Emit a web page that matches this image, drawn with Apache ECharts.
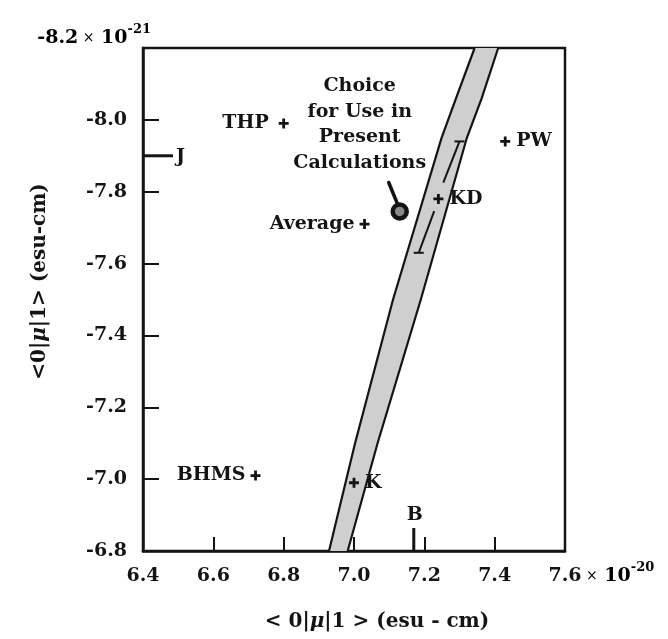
<!DOCTYPE html>
<html>
<head>
<meta charset="utf-8">
<script src="https://cdn.jsdelivr.net/npm/echarts@6/dist/echarts.min.js"></script>
<style>
  html, body { margin: 0; padding: 0; background: #fff; }
  #chart { width: 668px; height: 639px; }
</style>
</head>
<body>
<div id="chart"></div>
<script>
// ---- axis ticks ----
const xTicks = [6.4, 6.6, 6.8, 7.0, 7.2, 7.4, 7.6];
const xTickLabels = ['6.4', '6.6', '6.8', '7.0', '7.2', '7.4', '7.6'];
const yTicks = [-8.2, -8.0, -7.8, -7.6, -7.4, -7.2, -7.0, -6.8];
const yTickLabels = ['-8.2', '-8.0', '-7.8', '-7.6', '-7.4', '-7.2', '-7.0', '-6.8'];
const xExponent = '-20';
const yExponent = '-21';

// ---- individual determinations (x: <0|mu|1> x 1e-20, y: <0|mu|1> x 1e-21) ----
const pointNames = ['THP', 'Average', 'BHMS', 'PW', 'KD', 'K'];
const pointX = [6.80, 7.03, 6.72, 7.43, 7.24, 7.00];
const pointY = [-7.99, -7.71, -7.01, -7.94, -7.78, -6.99];

// ---- value chosen for the present calculations ----
const choiceX = [7.13];
const choiceY = [-7.745];
const choiceText = ['Choice', 'for Use in', 'Present', 'Calculations'];

// ---- allowed band: left / right edges sampled along y ----
const bandY = [-6.8, -7.1, -7.5, -7.95, -8.06, -8.2];
const bandLeftX = [6.929, 7.003, 7.111, 7.249, 7.290, 7.343];
const bandRightX = [6.982, 7.067, 7.190, 7.321, 7.363, 7.410];

// ---- KD uncertainty range along the band (upper bar, gap at KD, lower bar) ----
const kdRangeX = [7.30, 7.254, 7.228, 7.184];
const kdRangeY = [-7.94, -7.825, -7.746, -7.63];

// ---- single-coordinate results marked on the axes ----
const jValueY = -7.90;   // J: y only
const bValueX = 7.17;    // B: x only

const FONT = '"DejaVu Serif", "Liberation Serif", serif';
const INK = '#141414';
const TICK_SIZE = 19;
const LABEL_SIZE = 19;
const X_LABEL_MARGIN = 16;

function measure(str, font) {
  const ctx = document.createElement('canvas').getContext('2d');
  ctx.font = font;
  return ctx.measureText(str).width;
}

const expRich = {
  t: { fontFamily: FONT, fontWeight: 'bold', fontSize: TICK_SIZE, color: INK, lineHeight: 30 },
  x: { fontFamily: FONT, fontSize: 14, color: '#666', lineHeight: 30 },
  sup: { fontFamily: FONT, fontWeight: 'bold', fontSize: 13, color: INK, lineHeight: 14, verticalAlign: 'top' }
};

const plusSymbol = 'path://M3.6,0H6.4V3.6H10V6.4H6.4V10H3.6V6.4H0V3.6H3.6Z';
const labelPlacement = {
  THP: ['left', 10], Average: ['left', 5], BHMS: ['left', 5],
  PW: ['right', 6], KD: ['right', 6], K: ['right', 6]
};

const chart = echarts.init(document.getElementById('chart'), null, { renderer: 'canvas' });

const titleRich = { i: { fontFamily: FONT, fontStyle: 'italic', fontWeight: 'bold', fontSize: 20, color: INK } };

const option = {
  animation: false,
  backgroundColor: '#fff',
  textStyle: { fontFamily: FONT },
  grid: {
    left: 143, top: 48, width: 422, height: 503,
    show: true, borderColor: INK, borderWidth: 2.5,
    containLabel: false, outerBoundsMode: 'none'
  },
  xAxis: {
    type: 'value',
    min: xTicks[0], max: xTicks[xTicks.length - 1], interval: 0.2,
    axisLine: { lineStyle: { color: INK, width: 2.5 } },
    axisTick: { inside: true, length: 14, lineStyle: { color: INK, width: 2 } },
    splitLine: { show: false },
    axisLabel: {
      margin: X_LABEL_MARGIN, color: INK, fontFamily: FONT, fontWeight: 'bold', fontSize: TICK_SIZE,
      showMinLabel: true, showMaxLabel: true, hideOverlap: false,
      formatter: (v, i) => xTickLabels[i]
    },
    name: '< 0|{i|μ}|1 > (esu - cm)',
    nameLocation: 'middle', nameGap: 61,
    nameTextStyle: {
      fontFamily: FONT, fontWeight: 'bold', fontSize: 20, color: INK,
      padding: [0, 0, 0, 46], rich: titleRich
    }
  },
  yAxis: {
    type: 'value', inverse: true,
    min: yTicks[0], max: yTicks[yTicks.length - 1], interval: 0.2,
    axisLine: { lineStyle: { color: INK, width: 2.5 } },
    axisTick: { inside: true, length: 16, lineStyle: { color: INK, width: 2 } },
    splitLine: { show: false },
    axisLabel: {
      margin: 16, color: INK, fontFamily: FONT, fontWeight: 'bold', fontSize: TICK_SIZE,
      showMinLabel: true, showMaxLabel: true, hideOverlap: false,
      formatter: (v, i) => i === 0 ? '' : yTickLabels[i]
    },
    name: '<0|{i|μ}|1> (esu-cm)',
    nameLocation: 'middle', nameGap: 93, nameRotate: 90,
    nameTextStyle: {
      fontFamily: FONT, fontWeight: 'bold', fontSize: 20, color: INK,
      padding: [0, 0, 0, 36], rich: titleRich
    }
  },
  series: [
    {
      // shaded band with its two boundary curves
      type: 'custom', name: 'band', silent: true, z: 1,
      data: [[bandLeftX[0], bandY[0]]],
      renderItem: (params, api) => {
        const left = bandY.map((y, i) => api.coord([bandLeftX[i], y]));
        const right = bandY.map((y, i) => api.coord([bandRightX[i], y]));
        return {
          type: 'group',
          children: [
            { type: 'polygon', shape: { points: left.concat(right.slice().reverse()) },
              style: { fill: '#cfcfcf', stroke: null } },
            { type: 'polyline', shape: { points: left }, style: { stroke: INK, lineWidth: 2.2, fill: null } },
            { type: 'polyline', shape: { points: right }, style: { stroke: INK, lineWidth: 2.2, fill: null } }
          ]
        };
      }
    },
    {
      // KD uncertainty bars
      type: 'custom', name: 'kdRange', silent: true, z: 3,
      data: [[kdRangeX[0], kdRangeY[0]]],
      renderItem: (params, api) => {
        const p = kdRangeX.map((x, i) => api.coord([x, kdRangeY[i]]));
        const cap = 5;
        const s = { stroke: INK, lineWidth: 2, fill: null };
        return {
          type: 'group',
          children: [
            { type: 'line', shape: { x1: p[0][0], y1: p[0][1], x2: p[1][0], y2: p[1][1] }, style: s },
            { type: 'line', shape: { x1: p[2][0], y1: p[2][1], x2: p[3][0], y2: p[3][1] }, style: s },
            { type: 'line', shape: { x1: p[0][0] - cap, y1: p[0][1], x2: p[0][0] + cap, y2: p[0][1] }, style: s },
            { type: 'line', shape: { x1: p[3][0] - cap, y1: p[3][1], x2: p[3][0] + cap, y2: p[3][1] }, style: s }
          ]
        };
      }
    },
    {
      // J and B: results with only one coordinate, drawn as long axis ticks
      type: 'custom', name: 'axisMarks', silent: true, z: 4,
      data: [[xTicks[0], jValueY]],
      renderItem: (params, api) => {
        const j = api.coord([xTicks[0], jValueY]);
        const b = api.coord([bValueX, yTicks[yTicks.length - 1]]);
        const s = { stroke: INK, lineWidth: 3, fill: null };
        const txt = { fontFamily: FONT, fontWeight: 'bold', fontSize: LABEL_SIZE, fill: INK };
        return {
          type: 'group',
          children: [
            { type: 'line', shape: { x1: j[0], y1: j[1], x2: j[0] + 30, y2: j[1] }, style: s },
            { type: 'text', x: j[0] + 33, y: j[1] + 1,
              style: Object.assign({ text: 'J', align: 'left', verticalAlign: 'middle' }, txt) },
            { type: 'line', shape: { x1: b[0], y1: b[1], x2: b[0], y2: b[1] - 23 }, style: s },
            { type: 'text', x: b[0] + 1, y: b[1] - 26,
              style: Object.assign({ text: 'B', align: 'center', verticalAlign: 'bottom' }, txt) }
          ]
        };
      }
    },
    {
      type: 'scatter', name: 'results', z: 5,
      symbol: plusSymbol, symbolSize: 10,
      itemStyle: { color: INK, opacity: 1 },
      label: {
        show: true, formatter: '{b}', color: INK,
        fontFamily: FONT, fontWeight: 'bold', fontSize: LABEL_SIZE
      },
      data: pointNames.map((n, i) => ({
        name: n,
        value: [pointX[i], pointY[i]],
        label: { position: labelPlacement[n][0], distance: labelPlacement[n][1] }
      }))
    },
    {
      type: 'scatter', name: 'choice', z: 6,
      symbol: 'circle', symbolSize: 14,
      itemStyle: { color: '#8a8a8a', borderColor: INK, borderWidth: 4.5, opacity: 1 },
      data: choiceX.map((x, i) => [x, choiceY[i]])
    }
  ]
};

chart.setOption(option);

// annotations placed relative to the plotted frame and the chosen point
const corner = chart.convertToPixel({ gridIndex: 0 }, [xTicks[0], yTicks[0]]);
const xEnd = chart.convertToPixel({ gridIndex: 0 }, [xTicks[xTicks.length - 1], yTicks[yTicks.length - 1]]);
const choicePx = chart.convertToPixel({ gridIndex: 0 }, [choiceX[0], choiceY[0]]);
const lastLabelHalf = measure(xTickLabels[xTickLabels.length - 1], `bold ${TICK_SIZE}px ${FONT}`) / 2;

chart.setOption({
  graphic: [
    {
      // exponent of the y scale, written beside the top value
      type: 'text', x: corner[0] + 8, y: corner[1] - 10, z: 10,
      style: {
        text: `{t|${yTickLabels[0]}}{x| ×}{t| 10}{sup|${yExponent}}`,
        align: 'right', verticalAlign: 'middle', rich: expRich
      }
    },
    {
      // exponent of the x scale, continuing the last tick label
      type: 'text', x: xEnd[0] + lastLabelHalf, y: xEnd[1] + X_LABEL_MARGIN + TICK_SIZE / 2, z: 10,
      style: {
        text: `{x| ×}{t| 10}{sup|${xExponent}}`,
        align: 'left', verticalAlign: 'middle', rich: expRich
      }
    },
    {
      type: 'text', x: choicePx[0] - 40, y: choicePx[1] - 138, z: 10,
      style: {
        text: choiceText.join('\n'),
        align: 'center', verticalAlign: 'top',
        fontFamily: FONT, fontWeight: 'bold', fontSize: LABEL_SIZE, lineHeight: 25.5,
        fill: INK
      }
    },
    {
      type: 'line', z: 10,
      shape: { x1: choicePx[0] - 11, y1: choicePx[1] - 29, x2: choicePx[0] - 2, y2: choicePx[1] - 7 },
      style: { stroke: INK, lineWidth: 3.5, lineCap: 'round' }
    }
  ]
});
</script>
</body>
</html>
